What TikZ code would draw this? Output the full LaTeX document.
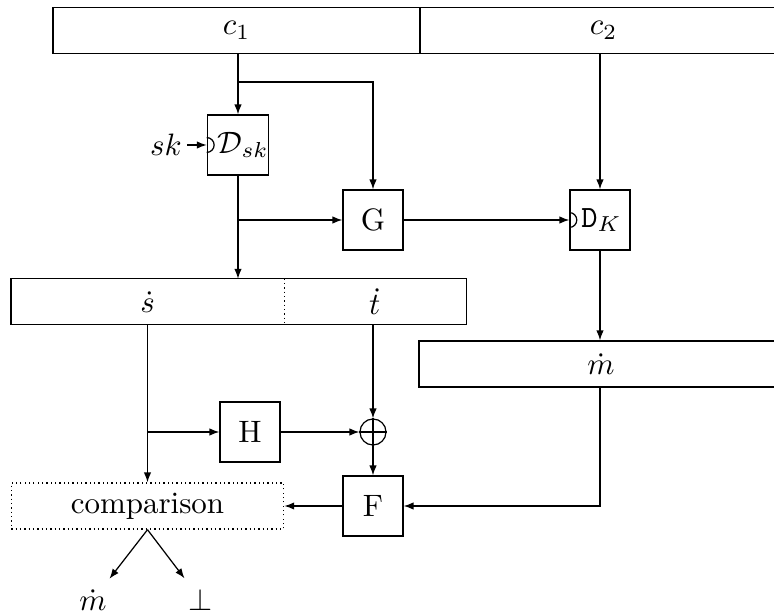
\documentclass[tikz,border=0pt]{standalone}
\usetikzlibrary{arrows.meta}
\begin{document}
\begin{tikzpicture}[x=0.323pt,y=-0.323pt,
  >={Latex[length=3.2pt,width=2.4pt]},
  line width=0.4pt,
  blk/.style={draw, minimum width=19.38pt, minimum height=19.38pt, inner sep=0pt},
  wide/.style={minimum height=14.7pt, inner sep=0pt},
  lbl/.style={inner sep=1.5pt}]
\useasboundingbox (0,0) rectangle (774,614);
\clip (0,0) rectangle (774,614);
% top boxes
\node[draw, wide, minimum width=118.5pt] (c1) at (236.5,30.5) {$c_1$};
\node[draw, wide, minimum width=118.5pt] (c2) at (603.5,30.5) {$c_2$};
% blocks
\node[blk] (D) at (238,145) {\hspace{3.4pt}$\mathcal{D}_{sk}$};
\node[blk] (G) at (373,220) {G};
\node[blk] (DK) at (600,220) {\hspace{1pt}\texttt{D}$_K$};
\node[blk] (H) at (250,432) {H};
\node[blk] (F) at (373,506) {F};
\node[draw, circle, minimum size=8.4pt, inner sep=0pt] (x) at (373,432) {};
\draw (x.north) -- (x.south) (x.west) -- (x.east);
% s / t box
\node[wide, minimum width=87.9pt, minimum height=14.5pt] (s) at (147.7,301.8) {$\dot s$};
\node[wide, minimum width=58.8pt, minimum height=14.5pt] (t) at (374.7,301.8) {$\dot t$};
\draw (s.north west) rectangle (t.south east);
\draw[densely dotted] (s.north east) -- (s.south east);
% m box
\node[draw, wide, minimum width=117.6pt, minimum height=14.9pt] (m) at (601,364) {$\dot m$};
% comparison
\node[draw, densely dotted, wide, minimum width=88pt, minimum height=14.9pt] (comp) at (147.5,506) {\strut comparison};
% labels
\node[lbl] (sk) at (166,145) {$sk$};
\node (mo) at (93,600) {$\dot m$};
\node (bo) at (201,600) {$\bot$};
% key input arcs
\draw ([yshift=2.4pt]D.west) arc[start angle=90,end angle=-90,radius=2.4pt];
\draw ([yshift=2.4pt]DK.west) arc[start angle=90,end angle=-90,radius=2.4pt];
% connectors
\coordinate (j1) at (238,82);
\draw[->] (D.north |- c1.south) -- (D.north);
\draw[->] (j1) -| (G.north);
\draw[->] (sk) -- (D.west);
\draw[->] (D.south) -- (D.south |- s.north);
\draw[->] (D.south |- G.west) -- (G.west);
\draw[->] (G.east) -- (DK.west);
\draw[->] (DK.north |- c2.south) -- (DK.north);
\draw[->] (DK.south) -- (DK.south |- m.north);
\draw[->] (comp.north |- s.south) -- (comp.north);
\draw[->] (comp.north |- H.west) -- (H.west);
\draw[->] (H.east) -- (x.west);
\draw[->] (x.north |- t.south) -- (x.north);
\draw[->] (x.south) -- (F.north);
\draw[->] (DK.south |- m.south) |- (F.east);
\draw[->] (F.west) -- (F.west -| comp.east);
\draw[->] (comp.south) -- (mo);
\draw[->] (comp.south) -- (bo);
\end{tikzpicture}
\end{document}
